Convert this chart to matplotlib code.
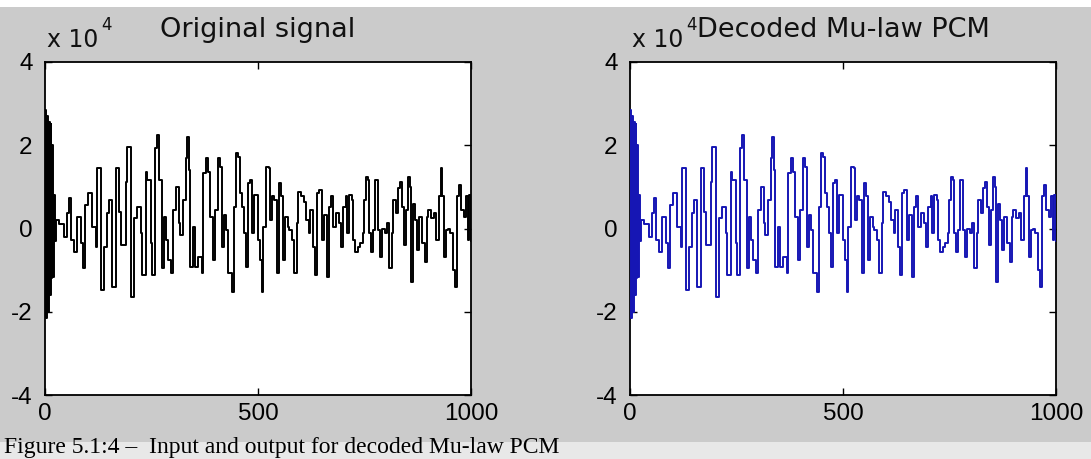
import matplotlib
matplotlib.use("Agg")
import matplotlib.pyplot as plt
from matplotlib.patches import Rectangle

# ---- data (values in units of 1e4) ----
sample_idx = [0, 1, 3, 5, 7, 9, 11, 13, 15, 17, 19, 21, 23,
              25, 33, 45, 52, 56, 60, 68, 76, 84, 90, 95, 101, 111, 119, 123, 131, 138, 146,
              150, 158, 166, 174, 178, 189, 193, 201, 209, 217, 225, 228, 236, 240, 248,
              250, 258, 264, 268, 274, 279, 284, 289, 295, 301, 307, 315, 318, 325, 331,
              334, 339, 340, 347, 352, 360, 368, 372, 378, 383, 387, 394, 399, 405, 411,
              415, 420, 425, 430, 438, 444, 448, 454, 458, 462, 467, 472, 477, 481, 485,
              491, 499, 505, 509, 512, 519, 525, 528, 533, 538, 544, 550, 554, 559, 564,
              570, 573, 580, 585, 591, 595, 601, 609, 613, 619, 623, 628, 634, 638, 644,
              650, 656, 661, 666, 671, 677, 683, 689, 695, 700, 706, 710, 714, 721, 724,
              728, 734, 739, 746, 749, 753, 758, 761, 766, 771, 775, 782, 787, 791, 797,
              803, 808, 814, 818, 824, 828, 834, 838, 842, 847, 852, 856, 860, 865, 869,
              873, 879, 885, 891, 897, 900, 907, 912, 918, 924, 929, 932, 936, 941, 946,
              951, 957, 962, 967, 972, 977, 983, 988, 993, 996, 1000]
original_x1e4 = [0.0, 2.85, -2.15, 2.7, -2.0, 2.55, -1.6, 2.5, -1.2, 2.0, -1.16, 0.8, -0.3,
                 0.2, 0.12, -0.2, 0.37, 0.73, -0.28, -0.56, 0.28, -0.35, -0.95, 0.56, 0.85, 0.04, -0.44, 1.45, -1.48, -0.44, 0.37,
                 0.68, -1.4, 1.45, 0.4, -0.4, 1.12, 1.96, -1.64, 0.25, 0.52, -0.1, -1.12, 1.36, 1.16, -0.35,
                 -1.12, 1.93, 2.25, 1.16, -0.95, 0.28, -0.28, -0.76, -1.07, 0.44, 1.0, 0.13, -0.16, 0.68, 1.69,
                 2.2, 1.4, -0.92, 0.04, -0.92, -0.68, -1.07, 1.33, 1.69, 1.36, 0.28, -0.76, 0.44, 1.69, 1.48,
                 -0.44, 0.32, -0.04, -1.07, -1.52, 0.52, 1.81, 1.72, 0.85, 0.52, -0.1, -0.92, 1.09, 1.16, -0.1,
                 0.8, -0.28, -0.76, -1.52, 0.04, 1.48, 1.45, 0.2, 0.77, 0.68, -1.07, 1.09, 0.77, -0.76, 0.28,
                 0.04, -0.04, -0.28, -1.07, 0.13, 0.88, 0.77, 0.64, 0.2, -0.1, 0.44, -0.44, -1.12, 0.85, 0.92,
                 -0.28, 0.32, -1.16, 0.52, 0.77, 0.04, 0.37, 0.13, -0.44, 0.52, 0.77, -0.1, 0.8, 0.68, -0.28,
                 -0.56, -0.44, -0.35, -0.1, 0.68, 1.24, 1.16, -0.1, -0.56, -0.04, 1.16, -0.04, -0.68, 0.0, -0.1,
                 0.13, -0.95, -0.1, 0.68, 0.37, 0.97, 1.12, 0.52, -0.4, 0.44, 1.24, 1.0, -1.28, 0.6, 0.2,
                 -0.52, 0.28, -0.35, -0.8, 0.28, 0.44, 0.25, 0.37, -0.28, 0.77, 1.45, 0.77, -0.68, -0.04, 0.0,
                 -0.1, -1.0, -1.4, 0.77, 1.04, 0.44, 0.28, 0.77, -0.28, 0.8, -0.3]
decoded_x1e4 = list(original_x1e4)

titles = ["Original signal", "Decoded Mu-law PCM"]
line_colors = ["#000000", "#1616b4"]
xticks = [0, 500, 1000]
yticks = [-4, -2, 0, 2, 4]
caption = "Figure 5.1:4 \u2013  Input and output for decoded Mu-law PCM"

# ---- figure ----
W, H = 1091, 459
fig = plt.figure(figsize=(W / 100, H / 100), dpi=100, facecolor="white")


def fx(x):
    return x / W


def fy(y):
    return 1 - y / H


# backgrounds
fig.patches.append(Rectangle((0, fy(442)), 1, (442 - 7) / H, transform=fig.transFigure,
                             facecolor="#cbcbcb", edgecolor="none", zorder=-20))
fig.patches.append(Rectangle((0, 0), 1, (H - 442) / H, transform=fig.transFigure,
                             facecolor="#e8e8e8", edgecolor="none", zorder=-20))

ax_left = [45, 630]
ax_w = 426
ax_top, ax_bot = 62, 395

for i, (series, title, col) in enumerate(zip([original_x1e4, decoded_x1e4], titles, line_colors)):
    ax = fig.add_axes([fx(ax_left[i]), fy(ax_bot), ax_w / W, (ax_bot - ax_top) / H])
    ax.set_zorder(5)
    ax.set_facecolor("white")
    ax.plot(sample_idx, series, color=col, lw=1.4, drawstyle="steps-post", zorder=3)
    ax.set_xlim(0, 1000)
    ax.set_ylim(-4, 4)
    ax.set_xticks(xticks)
    ax.set_yticks(yticks)
    ax.set_xticklabels([str(t) for t in xticks], family="Liberation Sans", fontsize=17.5)
    ax.set_yticklabels([str(t) for t in yticks], family="Liberation Sans", fontsize=17.5)
    ax.tick_params(direction="in", top=True, right=True, length=5, width=1.0,
                   colors="black", pad=6)
    ax.tick_params(axis="y", pad=9)
    for s in ax.spines.values():
        s.set_linewidth(1.3)
        s.set_color("black")
    # multiplier
    fig.text(fx(ax_left[i] + 2), fy(47), "x 10", family="DejaVu Sans", fontsize=17,
             ha="left", va="baseline", color="#111111")
    fig.text(fx(ax_left[i] + 56), fy(30), "4", family="DejaVu Sans", fontsize=12,
             ha="left", va="baseline", color="#111111")
    # title
    cx = ax_left[i] + ax_w / 2
    fig.text(fx(cx), fy(37), title, family="DejaVu Sans", fontsize=19.5,
             ha="center", va="baseline", color="#111111")

fig.text(fx(4), fy(453), caption, family="Liberation Serif", fontsize=17,
         ha="left", va="baseline", color="black")

fig.savefig("out.png", dpi=100, facecolor=fig.get_facecolor())
